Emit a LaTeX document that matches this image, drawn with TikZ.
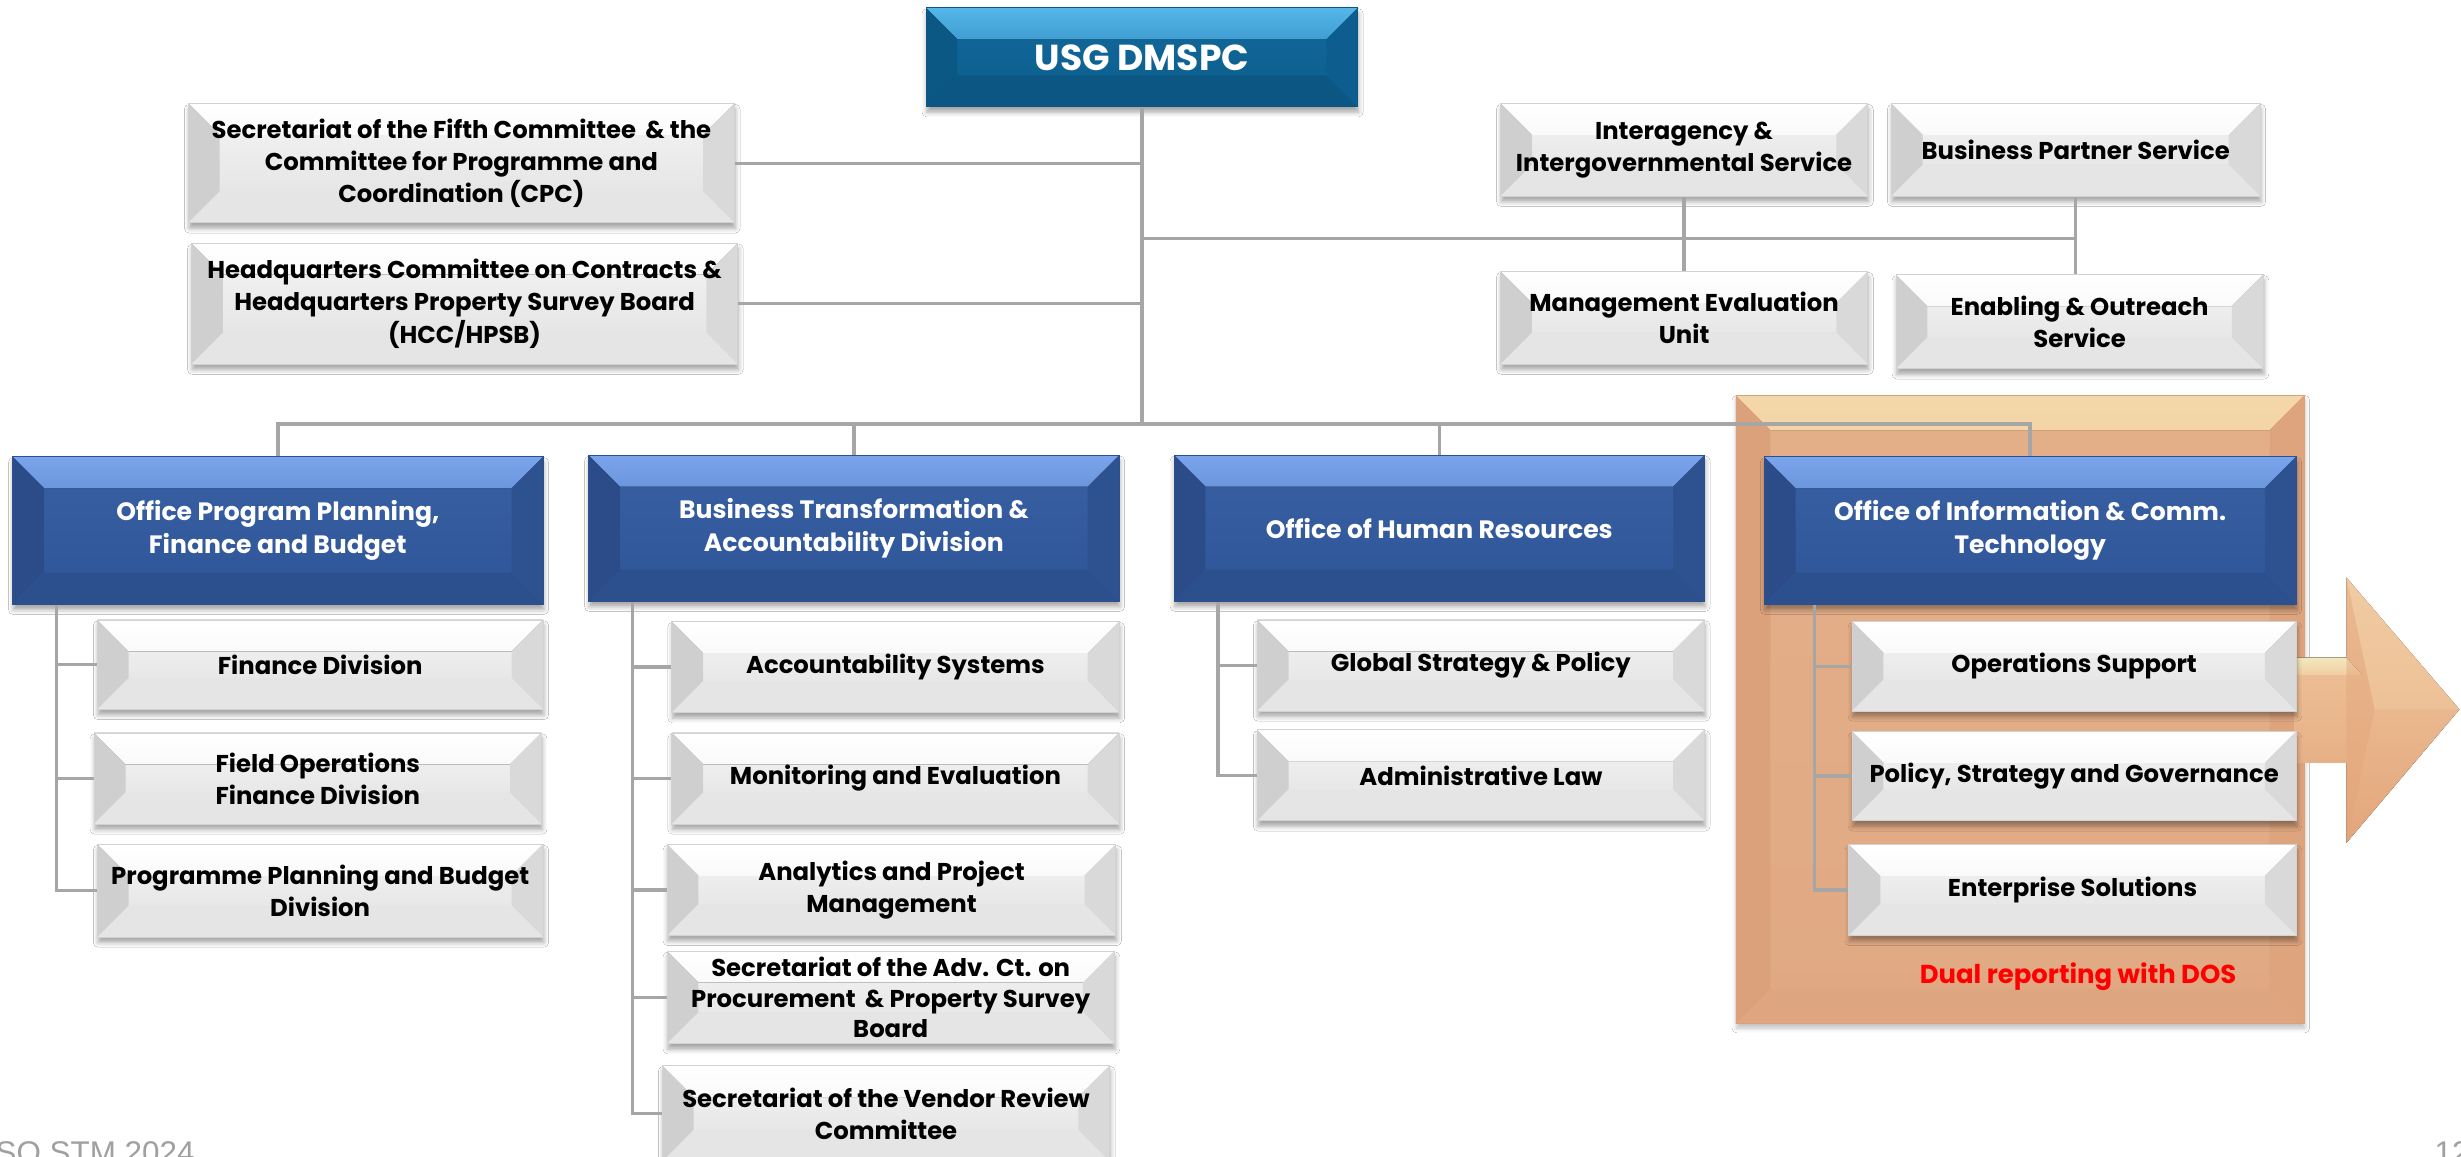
\documentclass[tikz,border=0pt]{standalone}
\usepackage{fontspec}
\setmainfont{Poppins}
\newfontfamily\footfont{Liberation Sans}
\usetikzlibrary{shadows.blur,calc}
\definecolor{conncol}{HTML}{A6A6A6}
\definecolor{bluebase}{HTML}{2F5597}
\definecolor{bluetop}{HTML}{3760A3}
\definecolor{bluehi}{HTML}{7AA5EC}
\definecolor{blueleft}{HTML}{2B4C88}
\definecolor{blueright}{HTML}{2E5190}
\definecolor{bluebot}{HTML}{2C4F8E}
\definecolor{usgbase}{HTML}{0C5E8C}
\definecolor{usgtop}{HTML}{12699C}
\definecolor{usghi}{HTML}{55B6EA}
\definecolor{usgleft}{HTML}{0B5885}
\definecolor{usgright}{HTML}{0D5E8E}
\definecolor{usgbot}{HTML}{0B5682}
\definecolor{orbase}{HTML}{E0A983}
\definecolor{ortop}{HTML}{E3AF89}
\definecolor{orhi}{HTML}{F4D7A9}
\definecolor{orleft}{HTML}{DBA17B}
\definecolor{orright}{HTML}{DDA47E}
\definecolor{orbot}{HTML}{DEA680}
\definecolor{arrtop}{HTML}{F1CBA2}
\definecolor{arrbot}{HTML}{E3A57B}
\definecolor{arrhi}{HTML}{F2E9BE}
\definecolor{redtxt}{HTML}{FF0000}
\definecolor{foot}{HTML}{A0A0A0}
\tikzset{
  bev/.style n args={6}{path picture={
    \fill[top color=#2, bottom color=#6]
      (path picture bounding box.north west) -- (path picture bounding box.north east)
      -- ([xshift=-#1pt,yshift=-#1pt]path picture bounding box.north east)
      -- ([xshift=#1pt,yshift=-#1pt]path picture bounding box.north west) -- cycle;
    \fill[#3]
      (path picture bounding box.north west)
      -- ([xshift=#1pt,yshift=-#1pt]path picture bounding box.north west)
      -- ([xshift=#1pt,yshift=#1pt]path picture bounding box.south west)
      -- (path picture bounding box.south west) -- cycle;
    \fill[#4]
      (path picture bounding box.north east)
      -- ([xshift=-#1pt,yshift=-#1pt]path picture bounding box.north east)
      -- ([xshift=-#1pt,yshift=#1pt]path picture bounding box.south east)
      -- (path picture bounding box.south east) -- cycle;
    \fill[#5]
      (path picture bounding box.south west)
      -- ([xshift=#1pt,yshift=#1pt]path picture bounding box.south west)
      -- ([xshift=-#1pt,yshift=#1pt]path picture bounding box.south east)
      -- (path picture bounding box.south east) -- cycle;
  }},
  box/.style={rectangle, inner sep=2pt, align=center,
    font=\bfseries\fontsize{15.5}{20.5}\selectfont,
    blur shadow={shadow xshift=0.5pt, shadow yshift=-3.5pt, shadow blur radius=3pt, shadow opacity=35}},
  graybox/.style={box, draw=gray!35, line width=0.6pt, top color=gray!8, bottom color=gray!24,
    text=black, bev={20}{white}{gray!38}{gray!30}{gray!20}{gray!12}},
  bluebox/.style={box, draw=bluebot, line width=0.6pt, top color=bluetop, bottom color=bluebase,
    text=white, font=\bfseries\fontsize{16}{21}\selectfont,
    bev={20}{bluehi}{blueleft}{blueright}{bluebot}{bluetop}},
  usgbox/.style={box, draw=usgbot, line width=0.6pt, top color=usgtop, bottom color=usgbase,
    text=white, font=\bfseries\fontsize{23}{28}\selectfont,
    bev={20}{usghi}{usgleft}{usgright}{usgbot}{usgtop}},
  orbox/.style={rectangle, inner sep=0pt, draw=orleft, line width=0.5pt, top color=ortop, bottom color=orbase,
    bev={22}{orhi}{orleft}{orright}{orbot}{ortop},
    blur shadow={shadow xshift=0.5pt, shadow yshift=-3pt, shadow blur radius=3pt, shadow opacity=25}},
  conn/.style={draw=conncol, line width=2.2pt},
}
\begin{document}
\begin{tikzpicture}[x=1pt,y=-1pt]
\useasboundingbox (0,0) rectangle (1568,737);
\clip (0,0) rectangle (1568,737);
\fill[white] (0,0) rectangle (1568,737);

% DOS background and arrow
\node[orbox, minimum width=362pt, minimum height=400pt] (dosbg) at (1287,452) {};
\fill[top color=arrtop, bottom color=arrbot]
  (1462,419) -- (1495,419) -- (1495,368) -- (1567,452) -- (1495,537) -- (1495,486) -- (1462,486) -- cycle;
\fill[top color=arrhi, bottom color=arrtop] (1462,419) -- (1495,419) -- (1505,430) -- (1462,430) -- cycle;
\fill[arrbot, opacity=0.45] (1495,368) -- (1513,452) -- (1495,537) -- cycle;
\fill[arrtop, opacity=0.5] (1495,368) -- (1567,452) -- (1513,452) -- cycle;

% top level
\node[usgbox, minimum width=275pt, minimum height=63pt] (usg) at (727.5,36.5) {USG DMSPC};
\node[graybox, minimum width=348pt, minimum height=76pt] (fifth) at (294,104)
  {Secretariat of the Fifth Committee \,\& the\\Committee for Programme and\\Coordination (CPC)};
\node[graybox, minimum width=348pt, minimum height=77pt] (hcc) at (296,193.5)
  {Headquarters Committee on Contracts \&\\Headquarters Property Survey Board\\(HCC/HPSB)};
\node[graybox, minimum width=234pt, minimum height=59pt] (inter) at (1073,95.5)
  {Interagency \&\\Intergovernmental Service};
\node[graybox, minimum width=235pt, minimum height=59pt] (bps) at (1322.5,95.5)
  {Business Partner Service};
\node[graybox, minimum width=234pt, minimum height=59pt] (meu) at (1073,202.5)
  {Management Evaluation\\Unit};
\node[graybox, minimum width=234pt, minimum height=60pt] (enab) at (1325,205)
  {Enabling \& Outreach\\Service};

% division heads
\node[bluebox, minimum width=338pt, minimum height=94pt] (oppfb) at (177,338)
  {Office Program Planning,\\Finance and Budget};
\node[bluebox, minimum width=338pt, minimum height=93pt] (btad) at (544,336.5)
  {Business Transformation \&\\Accountability Division};
\node[bluebox, minimum width=338pt, minimum height=93pt] (ohr) at (917,336.5)
  {Office of Human Resources};
\node[bluebox, minimum width=339pt, minimum height=94pt] (oict) at (1293.5,338)
  {Office of Information \& Comm.\\Technology};

% OPPFB units
\node[graybox, minimum width=284pt, minimum height=57pt] (fin) at (204,423.5) {Finance Division};
\node[graybox, minimum width=285pt, minimum height=58pt] (fod) at (202.5,496) {Field Operations\\Finance Division};
\node[graybox, minimum width=284pt, minimum height=59pt] (ppbd) at (204,567.5) {Programme Planning and Budget\\Division};

% BTAD units
\node[graybox, minimum width=285pt, minimum height=58pt] (acc) at (570.5,425) {Accountability Systems};
\node[graybox, minimum width=285pt, minimum height=58pt] (mon) at (570.5,496) {Monitoring and Evaluation};
\node[graybox, minimum width=286pt, minimum height=58pt] (ana) at (568,567) {Analytics and Project\\Management};
\node[graybox, minimum width=285pt, minimum height=59pt, font=\bfseries\fontsize{15.5}{19.5}\selectfont] (acpc) at (567.5,635.5)
  {Secretariat of the Adv. Ct. on\\Procurement \,\& Property Survey\\Board};
\node[graybox, minimum width=285pt, minimum height=61pt] (vrc) at (564.5,709.5) {Secretariat of the Vendor Review\\Committee};

% OHR units
\node[graybox, minimum width=285pt, minimum height=58pt] (gsp) at (943.5,424) {Global Strategy \& Policy};
\node[graybox, minimum width=285pt, minimum height=58pt] (adl) at (943.5,494) {Administrative Law};

% OICT units
\node[graybox, minimum width=283pt, minimum height=57pt] (ops) at (1321.5,424.5) {Operations Support};
\node[graybox, minimum width=283pt, minimum height=57pt] (psg) at (1321.5,494.5) {Policy, Strategy and Governance};
\node[graybox, minimum width=285pt, minimum height=58pt] (ent) at (1320.5,567) {Enterprise Solutions};

\node[text=redtxt, font=\bfseries\fontsize{16.5}{20}\selectfont, inner sep=0pt] (dual) at (1324,622) {Dual reporting with DOS};

% footer
\node[anchor=base west, inner sep=0pt, text=foot, font=\footfont\fontsize{20}{24}\selectfont] (footl) at (-3,741) {SO STM 2024};
\node[anchor=base west, inner sep=0pt, text=foot, font=\footfont\fontsize{20}{24}\selectfont] (footr) at (1551,741) {12};

% connectors
\coordinate (hub) at (0,270);
\coordinate (rh) at (0,152);
\coordinate (lx) at (36,0);
\coordinate (bx) at (403,0);
\coordinate (hx) at (776,0);
\coordinate (ox) at (1156,0);
\draw[conn] (usg.south) -- (usg.south |- hub);
\draw[conn] (fifth.east) -- (fifth.east -| usg.south);
\draw[conn] (hcc.east) -- (hcc.east -| usg.south);
\draw[conn] (usg.south |- rh) -- (bps.south |- rh);
\draw[conn] (inter.south) -- (meu.north);
\draw[conn] (bps.south) -- (bps.south |- enab.north);
\draw[conn] (oppfb.north) -- (oppfb.north |- hub) -- (oict.north |- hub) -- (oict.north);
\draw[conn] (btad.north |- hub) -- (btad.north);
\draw[conn] (ohr.north |- hub) -- (ohr.north);
\draw[conn] (oppfb.south -| lx) |- (ppbd.west);
\draw[conn] (fin.west -| lx) -- (fin.west);
\draw[conn] (fod.west -| lx) -- (fod.west);
\draw[conn] (btad.south -| bx) |- (vrc.west);
\draw[conn] (acc.west -| bx) -- (acc.west);
\draw[conn] (mon.west -| bx) -- (mon.west);
\draw[conn] (ana.west -| bx) -- (ana.west);
\draw[conn] (acpc.west -| bx) -- (acpc.west);
\draw[conn] (ohr.south -| hx) |- (adl.west);
\draw[conn] (gsp.west -| hx) -- (gsp.west);
\draw[conn] (oict.south -| ox) |- (ent.west);
\draw[conn] (ops.west -| ox) -- (ops.west);
\draw[conn] (psg.west -| ox) -- (psg.west);
\end{tikzpicture}
\end{document}
